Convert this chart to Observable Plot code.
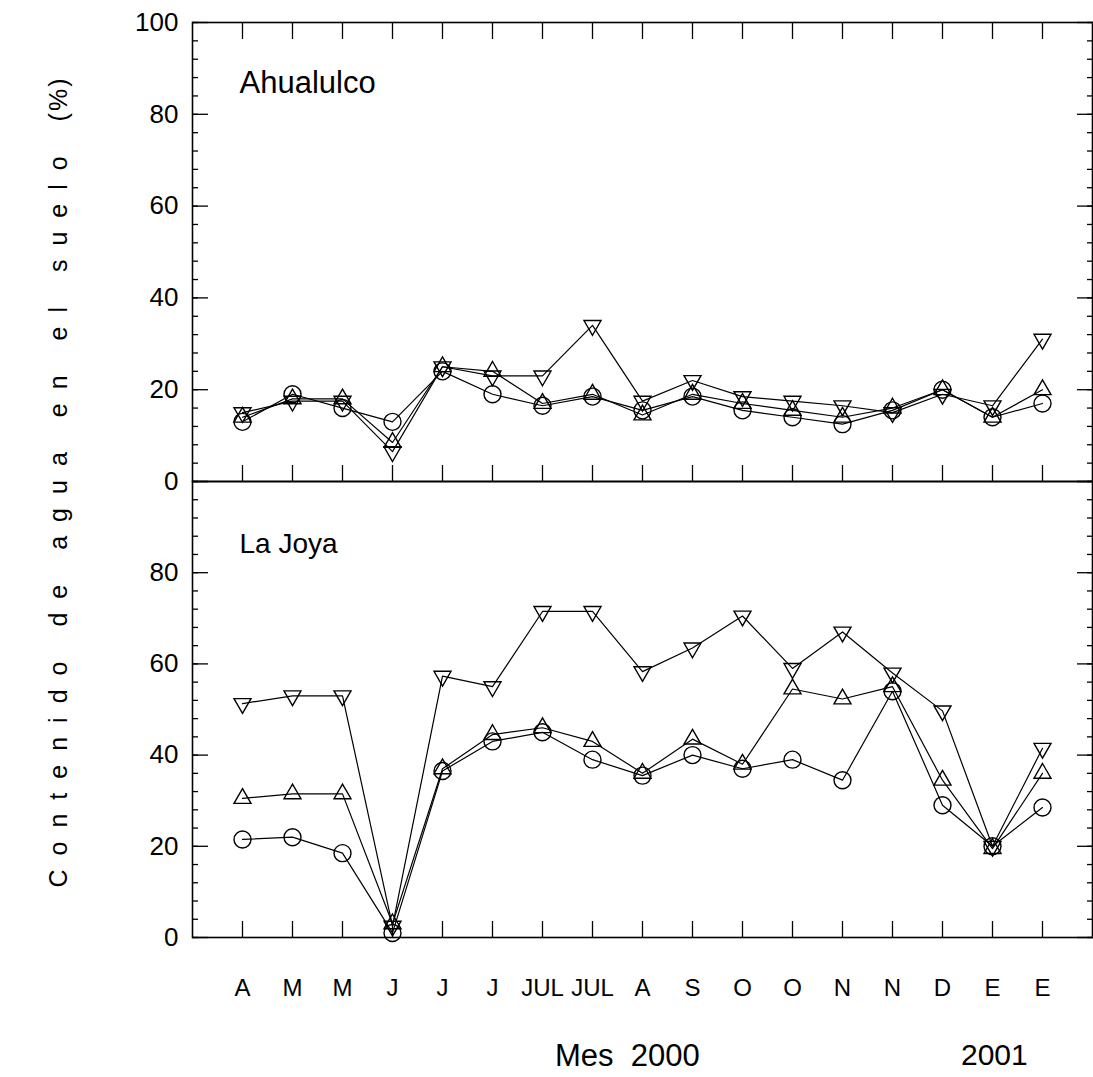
<!DOCTYPE html>
<html><head><meta charset="utf-8">
<script src="https://cdn.jsdelivr.net/npm/d3@7"></script>
<script src="https://cdn.jsdelivr.net/npm/@observablehq/plot@0.6"></script>
<style>
body{margin:0;background:#fff;font-family:"Liberation Sans",Arial,sans-serif;}
#wrap{position:relative;width:1093px;height:1077px;overflow:hidden;}
.abs{position:absolute;white-space:nowrap;color:#000;}
#wrap svg{position:absolute;left:0;overflow:visible;}
</style></head><body><div id="wrap"></div>
<script>
const months = ["A","M","M","J","J","J","JUL","JUL","A","S","O","O","N","N","D","E","E"];
// Ahualulco
const ahuCircle = [13, 19, 16, 13, 24, 19, 16.5, 18.5, 15.5, 18.5, 15.5, 14, 12.5, 15.5, 20, 14, 17];
const ahuUp     = [14, 18, 18, 8.5, 25, 24, 17, 19, 14.5, 19, 17, 15.5, 14, 16, 20, 14, 20];
const ahuDown   = [15, 17.5, 17.5, 6.5, 25, 23, 23, 34, 17.5, 22, 18.5, 17.5, 16.5, 15, 19, 16.5, 31];
// La Joya
const joyCircle = [21.5, 22, 18.5, 1, 36.5, 43, 45, 39, 35.5, 40, 37, 39, 34.5, 54, 29, 20, 28.5];
const joyUp     = [30.5, 31.5, 31.5, 3, 37, 44.5, 46, 43, 36, 43.5, 38, 54.5, 52.3, 55, 34.5, 19.5, 36];
const joyDown   = [51.3, 53, 53, 2.5, 57.3, 55, 71.5, 71.5, 58.3, 63.5, 70.5, 59, 67, 58, 49.7, 20, 41.5];

const seriesNames = ["circle", "up", "down"];

const triUp = {draw(ctx, size){ const h = Math.sqrt(size/Math.PI);
  ctx.moveTo(0, -1.155*h); ctx.lineTo(h, 0.577*h); ctx.lineTo(-h, 0.577*h); ctx.closePath(); }};
const triDown = {draw(ctx, size){ const h = Math.sqrt(size/Math.PI);
  ctx.moveTo(0, 1.155*h); ctx.lineTo(h, -0.577*h); ctx.lineTo(-h, -0.577*h); ctx.closePath(); }};

function toRows(arrs){
  return arrs.flatMap((arr, k) => arr.map((v, i) => ({i, v, s: seriesNames[k]})));
}

const font = '"Liberation Sans", Arial, sans-serif';
const idx = d3.range(months.length);

function panel({rows, height, marginTop, marginBottom, yLabelTicks, name, nameDy, nameSize, xLabels}){
  const tk = {tickFormat: () => "", strokeWidth: 1.3, label: null};
  const marks = [
    Plot.frame({stroke: "black", strokeWidth: 1.6}),
    Plot.axisY({anchor: "left", ticks: d3.range(0, 101, 4), tickSize: -6, ...tk}),
    Plot.axisY({anchor: "right", ticks: d3.range(0, 101, 4), tickSize: -6, ...tk}),
    Plot.axisY({anchor: "left", ticks: d3.range(0, 101, 20), tickSize: -16, ...tk}),
    Plot.axisY({anchor: "right", ticks: d3.range(0, 101, 20), tickSize: -16, ...tk}),
    Plot.axisY({anchor: "left", ticks: yLabelTicks, tickSize: 0, tickPadding: 14, fontSize: 26, fontFamily: font, label: null}),
    Plot.axisX({anchor: "bottom", ticks: idx, tickSize: -16, ...tk}),
    Plot.line(rows, {x: "i", y: "v", z: "s", stroke: "black", strokeWidth: 1.2}),
    Plot.dot(rows, {x: "i", y: "v", symbol: "s", r: 8.5, stroke: "black", strokeWidth: 1.4, fill: "none"}),
    Plot.text([name], {frameAnchor: "top-left", dx: 47, dy: nameDy, fontSize: nameSize, fontFamily: font, textAnchor: "start", lineAnchor: "middle", fill: "black"})
  ];
  if (xLabels) {
    marks.push(Plot.axisX({anchor: "bottom", ticks: idx, tickSize: 0, tickPadding: 41, tickFormat: i => months[i], fontSize: 24, fontFamily: font, label: null}));
  } else {
    marks.push(Plot.axisX({anchor: "top", ticks: idx, tickSize: -16, ...tk}));
  }
  return Plot.plot({
    width: 1093, height, marginLeft: 192, marginRight: 1, marginTop, marginBottom,
    style: {fontFamily: font, color: "black", background: "transparent"},
    x: {type: "linear", domain: [-1, 17], axis: null},
    y: {domain: [0, 100], axis: null},
    symbol: {domain: seriesNames, range: [d3.symbolCircle, triUp, triDown]},
    marks
  });
}

const wrap = document.getElementById("wrap");
const topPanel = panel({rows: toRows([ahuCircle, ahuUp, ahuDown]), height: 482, marginTop: 22, marginBottom: 1,
  yLabelTicks: d3.range(0, 101, 20), name: "Ahualulco", nameDy: 61, nameSize: 31});
topPanel.style.top = "0px";
const bottomPanel = panel({rows: toRows([joyCircle, joyUp, joyDown]), height: 597, marginTop: 1, marginBottom: 140,
  yLabelTicks: d3.range(0, 81, 20), name: "La Joya", nameDy: 63, nameSize: 28, xLabels: true});
bottomPanel.style.top = "480px";
wrap.appendChild(topPanel);
wrap.appendChild(bottomPanel);

const ytitle = document.createElement("div");
ytitle.className = "abs";
ytitle.innerHTML = 'Contenido de agua en el suelo <span style="letter-spacing:2px">(%)</span>';
Object.assign(ytitle.style, {left: "58px", top: "482px", fontSize: "25px", letterSpacing: "14px",
  transform: "translate(-50%,-50%) rotate(-90deg)"});
wrap.appendChild(ytitle);

const mes = document.createElement("div");
mes.className = "abs";
mes.textContent = "Mes\u00a0 2000";
Object.assign(mes.style, {left: "555px", top: "1038px", fontSize: "31px"});
wrap.appendChild(mes);

const y2001 = document.createElement("div");
y2001.className = "abs";
y2001.textContent = "2001";
Object.assign(y2001.style, {left: "961px", top: "1038px", fontSize: "30px"});
wrap.appendChild(y2001);
</script></body></html>
